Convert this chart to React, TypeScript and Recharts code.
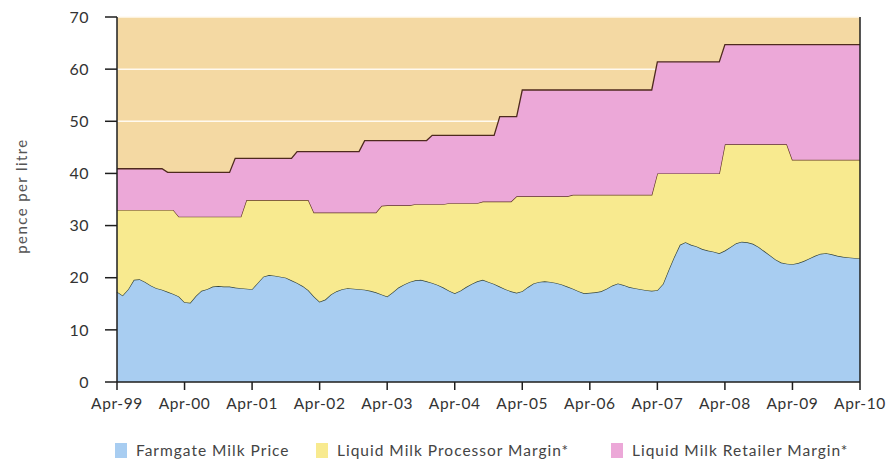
import { AreaChart, Area, XAxis, YAxis, CartesianGrid, ReferenceLine } from 'recharts'

// monthly, Apr-99 .. Apr-10 (pence per litre)
const farmgate = [
  17.3, 16.6, 17.8, 19.6, 19.7, 19.2, 18.5, 18.0, 17.7, 17.3, 16.9, 16.4,
  15.3, 15.2, 16.5, 17.5, 17.8, 18.3, 18.4, 18.3, 18.3, 18.1, 18.0, 17.9,
  17.8, 19.0, 20.2, 20.5, 20.4, 20.2, 20.0, 19.5, 19.0, 18.4, 17.6, 16.4,
  15.4, 15.8, 16.8, 17.4, 17.8, 18.0, 17.9, 17.8, 17.7, 17.5, 17.2, 16.8,
  16.4, 17.2, 18.1, 18.7, 19.2, 19.5, 19.6, 19.3, 19.0, 18.6, 18.1, 17.5,
  17.0, 17.5, 18.2, 18.8, 19.3, 19.6, 19.2, 18.8, 18.3, 17.8, 17.4, 17.1,
  17.4, 18.2, 18.9, 19.2, 19.3, 19.2, 19.0, 18.7, 18.3, 17.9, 17.4, 17.0,
  17.1, 17.2, 17.4, 17.9, 18.5, 18.9, 18.6, 18.2, 18.0, 17.8, 17.6, 17.5,
  17.6, 18.8, 21.5, 24.0, 26.3, 26.8, 26.3, 26.0, 25.5, 25.2, 25.0, 24.7,
  25.2, 25.9, 26.6, 26.9, 26.8, 26.5, 25.9, 25.1, 24.3, 23.5, 22.9, 22.7,
  22.6, 22.8, 23.2, 23.7, 24.2, 24.6, 24.7, 24.5, 24.2, 24.0, 23.9, 23.8, 23.7,
]

// price after processor margin (top of yellow band)
const wholesale = [
  33.0, 33.0, 33.0, 33.0, 33.0, 33.0, 33.0, 33.0, 33.0, 33.0, 33.0, 31.7,
  31.7, 31.7, 31.7, 31.7, 31.7, 31.7, 31.7, 31.7, 31.7, 31.7, 31.7, 34.9,
  34.9, 34.9, 34.9, 34.9, 34.9, 34.9, 34.9, 34.9, 34.9, 34.9, 34.9, 32.5,
  32.5, 32.5, 32.5, 32.5, 32.5, 32.5, 32.5, 32.5, 32.5, 32.5, 32.5, 33.8,
  33.9, 33.9, 33.9, 33.9, 33.9, 34.1, 34.1, 34.1, 34.1, 34.1, 34.1, 34.3,
  34.3, 34.3, 34.3, 34.3, 34.3, 34.6, 34.6, 34.6, 34.6, 34.6, 34.6, 35.6,
  35.6, 35.6, 35.6, 35.6, 35.6, 35.6, 35.6, 35.6, 35.6, 35.9, 35.9, 35.9,
  35.9, 35.9, 35.9, 35.9, 35.9, 35.9, 35.9, 35.9, 35.9, 35.9, 35.9, 35.9,
  40.0, 40.0, 40.0, 40.0, 40.0, 40.0, 40.0, 40.0, 40.0, 40.0, 40.0, 40.0,
  45.6, 45.6, 45.6, 45.6, 45.6, 45.6, 45.6, 45.6, 45.6, 45.6, 45.6, 45.6,
  42.6, 42.6, 42.6, 42.6, 42.6, 42.6, 42.6, 42.6, 42.6, 42.6, 42.6, 42.6, 42.6,
]

// retail price (top of pink band)
const retail = [
  40.9, 40.9, 40.9, 40.9, 40.9, 40.9, 40.9, 40.9, 40.9, 40.2, 40.2, 40.2,
  40.2, 40.2, 40.2, 40.2, 40.2, 40.2, 40.2, 40.2, 40.2, 42.9, 42.9, 42.9,
  42.9, 42.9, 42.9, 42.9, 42.9, 42.9, 42.9, 42.9, 44.2, 44.2, 44.2, 44.2,
  44.2, 44.2, 44.2, 44.2, 44.2, 44.2, 44.2, 44.2, 46.3, 46.3, 46.3, 46.3,
  46.3, 46.3, 46.3, 46.3, 46.3, 46.3, 46.3, 46.3, 47.3, 47.3, 47.3, 47.3,
  47.3, 47.3, 47.3, 47.3, 47.3, 47.3, 47.3, 47.3, 50.9, 50.9, 50.9, 50.9,
  56.0, 56.0, 56.0, 56.0, 56.0, 56.0, 56.0, 56.0, 56.0, 56.0, 56.0, 56.0,
  56.0, 56.0, 56.0, 56.0, 56.0, 56.0, 56.0, 56.0, 56.0, 56.0, 56.0, 56.0,
  61.4, 61.4, 61.4, 61.4, 61.4, 61.4, 61.4, 61.4, 61.4, 61.4, 61.4, 61.4,
  64.7, 64.7, 64.7, 64.7, 64.7, 64.7, 64.7, 64.7, 64.7, 64.7, 64.7, 64.7,
  64.7, 64.7, 64.7, 64.7, 64.7, 64.7, 64.7, 64.7, 64.7, 64.7, 64.7, 64.7, 64.7,
]

const tickLabels = ['Apr-99', 'Apr-00', 'Apr-01', 'Apr-02', 'Apr-03', 'Apr-04', 'Apr-05', 'Apr-06', 'Apr-07', 'Apr-08', 'Apr-09', 'Apr-10']
const yTicks = [0, 10, 20, 30, 40, 50, 60, 70]

const legendItems = [
  { label: 'Farmgate Milk Price', color: '#a8cdf1', left: 115 },
  { label: 'Liquid Milk Processor Margin*', color: '#f8ea8f', left: 316 },
  { label: 'Liquid Milk Retailer Margin*', color: '#eca8d8', left: 611 },
]

const FONT = 'Lato, "Open Sans", sans-serif'

export default function App() {
  const data = farmgate.map((f, i) => ({
    idx: i,
    farmgate: f,
    processor: +(wholesale[i] - f).toFixed(2),
    retailer: +(retail[i] - wholesale[i]).toFixed(2),
  }))

  return (
    <div style={{ position: 'absolute', left: 0, top: 0, width: 892, height: 472, background: '#fff', fontFamily: FONT }}>
      <AreaChart width={892} height={472} data={data} margin={{ top: 17, right: 32, bottom: 60, left: 0 }}>
        <CartesianGrid vertical={false} fill="#f4d9a3" stroke="#fffaf0" strokeWidth={1.5} />
        <XAxis dataKey="idx" type="number" domain={[0, 132]} ticks={tickLabels.map((_, i) => i * 12)}
          tickFormatter={(v: number) => tickLabels[v / 12] ?? ''} height={30}
          tick={{ fill: '#333', fontSize: 15.5, fontFamily: FONT, letterSpacing: 0.6 }} tickSize={8} tickMargin={8}
          axisLine={{ stroke: '#1e1e1e', strokeWidth: 1.5 }} tickLine={{ stroke: '#1e1e1e', strokeWidth: 1.5 }} />
        <YAxis domain={[0, 70]} ticks={yTicks} width={117} interval={0}
          tick={{ fill: '#333', fontSize: 16, fontFamily: FONT, letterSpacing: 0.5 }} tickSize={12} tickMargin={16}
          axisLine={{ stroke: '#1e1e1e', strokeWidth: 1.5 }} tickLine={{ stroke: '#1e1e1e', strokeWidth: 1.5 }} />
        <Area type="linear" dataKey="farmgate" stackId="1" fill="#a8cdf1" fillOpacity={1} stroke="#34453f" strokeWidth={1.3} isAnimationActive={false} />
        <Area type="linear" dataKey="processor" stackId="1" fill="#f8ea8f" fillOpacity={1} stroke="#5e3526" strokeWidth={1.3} isAnimationActive={false} />
        <Area type="linear" dataKey="retailer" stackId="1" fill="#eca8d8" fillOpacity={1} stroke="#4e2a1e" strokeWidth={1.3} isAnimationActive={false} />
        <ReferenceLine x={132} stroke="#1e1e1e" strokeWidth={1.5} />
      </AreaChart>

      <div style={{ position: 'absolute', left: 21, top: 196, transform: 'translate(-50%, -50%) rotate(-90deg)', whiteSpace: 'nowrap', fontSize: 15, letterSpacing: 1.4, color: '#555' }}>
        pence per litre
      </div>

      {legendItems.map(item => (
        <div key={item.label} style={{ position: 'absolute', left: item.left, top: 441, display: 'flex', alignItems: 'center', whiteSpace: 'nowrap' }}>
          <span style={{ display: 'inline-block', width: 12, height: 15, background: item.color, marginRight: 9 }} />
          <span style={{ fontSize: 15.5, letterSpacing: 1, color: '#444' }}>{item.label}</span>
        </div>
      ))}
    </div>
  )
}
